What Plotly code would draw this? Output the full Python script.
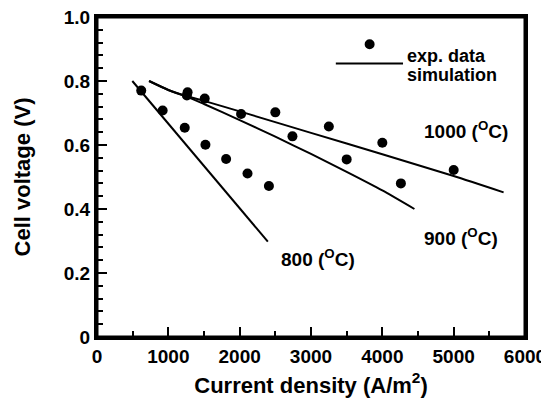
import plotly.graph_objects as go

# experimental points (current density A/m2, cell voltage V)
exp_800_x = [620, 920, 1230, 1520, 1810, 2110, 2410]
exp_800_y = [0.770, 0.708, 0.654, 0.601, 0.556, 0.511, 0.472]
exp_900_x = [1260, 1510, 2020, 2740, 3500, 4260]
exp_900_y = [0.755, 0.745, 0.697, 0.627, 0.555, 0.480]
exp_1000_x = [1270, 2500, 3250, 4000, 5000]
exp_1000_y = [0.765, 0.702, 0.658, 0.607, 0.522]

# simulation curves
sim_800_x = [495, 2395]
sim_800_y = [0.800, 0.298]
sim_900_x = [730, 1000, 1250, 1500, 2000, 2500, 3000, 3500, 4000, 4450]
sim_900_y = [0.800, 0.772, 0.752, 0.728, 0.678, 0.626, 0.572, 0.516, 0.458, 0.400]
sim_1000_x = [730, 1000, 1250, 1500, 2000, 3000, 4000, 5000, 5700]
sim_1000_y = [0.800, 0.772, 0.753, 0.738, 0.705, 0.638, 0.571, 0.503, 0.452]

# curve labels
label_text = ["800 (<sup>O</sup>C)", "900 (<sup>O</sup>C)", "1000 (<sup>O</sup>C)"]
label_x = [3100, 5100, 5170]
label_y = [0.247, 0.312, 0.647]

x_ticks = [0, 1000, 2000, 3000, 4000, 5000, 6000]
x_tick_text = ["0", "1000", "2000", "3000", "4000", "5000", "6000"]
y_ticks = [0, 0.2, 0.4, 0.6, 0.8, 1.0]
y_tick_text = ["0", "0.2", "0.4", "0.6", "0.8", "1.0"]

FONT = "Liberation Sans, Arial, sans-serif"
INK = "rgb(0,0,0)"

fig = go.Figure()

for sx, sy in [(sim_800_x, sim_800_y), (sim_900_x, sim_900_y), (sim_1000_x, sim_1000_y)]:
    fig.add_trace(go.Scatter(
        x=sx, y=sy, mode="lines",
        line=dict(color=INK, width=2, shape="spline", smoothing=0.6),
        showlegend=False, hoverinfo="skip"
    ))

for ex, ey in [(exp_800_x, exp_800_y), (exp_900_x, exp_900_y), (exp_1000_x, exp_1000_y)]:
    fig.add_trace(go.Scatter(
        x=ex, y=ey, mode="markers",
        marker=dict(color=INK, size=10),
        showlegend=False
    ))

for t, lx, ly in zip(label_text, label_x, label_y):
    fig.add_annotation(
        x=lx, y=ly, text=t, showarrow=False,
        font=dict(family=FONT, size=19, color=INK, weight="bold")
    )

# heavy frame round the plot area (on top of the axis lines)
fig.add_shape(type="rect", xref="paper", yref="paper",
              x0=0, x1=1, y0=0, y1=1,
              line=dict(color=INK, width=3), layer="above")

# legend drawn by hand
fig.add_shape(type="circle", xref="paper", yref="paper",
              xsizemode="pixel", ysizemode="pixel",
              xanchor=0.637, yanchor=0.915,
              x0=-5, x1=5, y0=-5, y1=5,
              fillcolor=INK, line=dict(color=INK, width=0))
fig.add_shape(type="line", xref="paper", yref="paper",
              x0=0.558, x1=0.715, y0=0.855, y1=0.855,
              line=dict(color=INK, width=2))
fig.add_annotation(xref="paper", yref="paper", x=0.72, y=0.915,
                   text="exp. data", showarrow=False, xanchor="left",
                   font=dict(family=FONT, size=18, color=INK, weight="bold"))
fig.add_annotation(xref="paper", yref="paper", x=0.72, y=0.855,
                   text="simulation", showarrow=False, xanchor="left",
                   font=dict(family=FONT, size=18, color=INK, weight="bold"))

# the page body adds an 8px margin at top and left
fig.update_layout(
    template="none",
    width=541, height=395,
    margin=dict(l=89, r=24, t=9, b=66),
    paper_bgcolor="white", plot_bgcolor="white",
    font=dict(family=FONT, color=INK, size=19, weight="bold"),
)

fig.update_xaxes(
    range=[0, 6000], tickvals=x_ticks, ticktext=x_tick_text,
    automargin=False, ticklabeloverflow="allow",
    showgrid=False, zeroline=False,
    showline=True, linecolor=INK, linewidth=3, mirror=True,
    ticks="inside", ticklen=10, tickwidth=2, tickcolor=INK,
    minor=dict(ticks="inside", dtick=500, ticklen=6, tickwidth=2, tickcolor=INK),
    tickfont=dict(size=19),
    title=dict(text="Current density (A/m<sup>2</sup>)",
               font=dict(size=22, weight="bold"), standoff=12),
)
fig.update_yaxes(
    range=[0, 1.0], tickvals=y_ticks, ticktext=y_tick_text,
    automargin=False, ticklabeloverflow="allow",
    showgrid=False, zeroline=False,
    showline=True, linecolor=INK, linewidth=3, mirror=True,
    ticks="inside", ticklen=10, tickwidth=2, tickcolor=INK,
    minor=dict(ticks="inside", dtick=0.04, ticklen=6, tickwidth=2, tickcolor=INK),
    tickfont=dict(size=19),
    ticksuffix="  ",
    title=dict(text="Cell voltage (V)",
               font=dict(size=22, weight="bold"), standoff=28),
)

fig.write_html("out.html")
